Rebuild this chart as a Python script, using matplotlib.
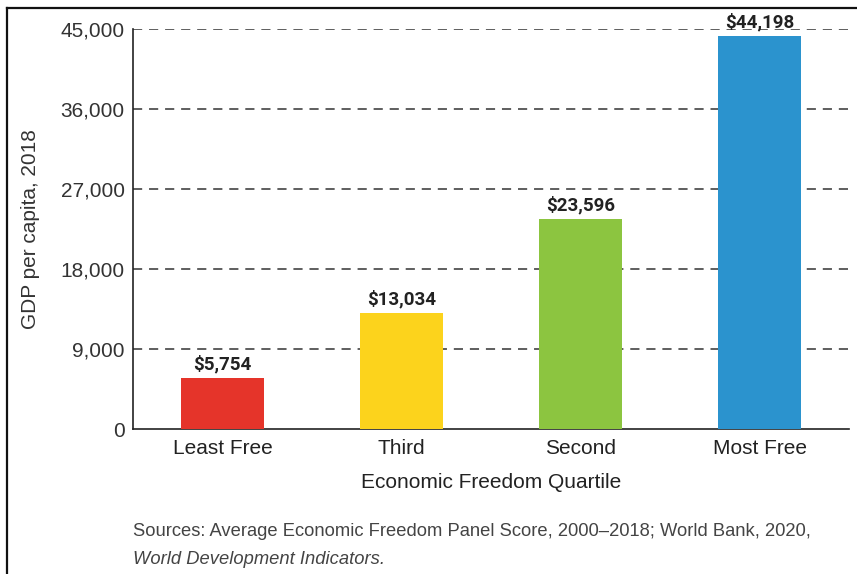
import numpy as np
import matplotlib
matplotlib.use("Agg")
import matplotlib.pyplot as plt
from matplotlib.lines import Line2D

quartiles = ["Least Free", "Third", "Second", "Most Free"]
gdp = [5754, 13034, 23596, 44198]
bar_colors = ["#E5342A", "#FCD31C", "#8CC540", "#2B93CE"]
y_ticks = [0, 9000, 18000, 27000, 36000, 45000]

plt.rcParams["font.family"] = ["Liberation Sans", "DejaVu Sans"]

fig = plt.figure(figsize=(8.57, 5.74), dpi=100)
ax = fig.add_axes([0.1552, 0.2526, 0.8355, 0.6969])

x = np.arange(len(quartiles))
ax.bar(x, gdp, width=0.46, color=bar_colors, zorder=3)

# value labels over each bar
for xi, v in zip(x, gdp):
    ax.text(xi, v + 500, f"${v:,}", ha="center", va="bottom",
            fontsize=13.5, fontweight="bold", color="#222222",
            family=["Liberation Sans Narrow", "Roboto", "DejaVu Sans"], zorder=4)

ax.set_xlim(-0.5, 3.5)
ax.set_ylim(0, 45000)
ax.set_yticks(y_ticks)
ax.set_yticklabels([f"{t:,}" for t in y_ticks])
ax.set_xticks(x)
ax.set_xticklabels(quartiles)

ax.tick_params(axis="y", length=0, pad=6, labelsize=15, labelcolor="#333333")
ax.tick_params(axis="x", length=0, pad=7, labelsize=15, labelcolor="#222222")

for t in y_ticks[1:]:
    ax.axhline(t, color="#333333", lw=1.1, ls=(0, (6, 4.5)), zorder=1)

for side in ["top", "right"]:
    ax.spines[side].set_visible(False)
for side in ["left", "bottom"]:
    ax.spines[side].set_color("#222222")
    ax.spines[side].set_linewidth(1.2)

ax.set_ylabel("GDP per capita, 2018", fontsize=15, color="#333333", labelpad=15)
ax.set_xlabel("Economic Freedom Quartile", fontsize=15, color="#222222", labelpad=11)

fig.text(0.1552, 1 - 532 / 574,
         "Sources: Average Economic Freedom Panel Score, 2000\u20132018; World Bank, 2020,",
         fontsize=13.2, color="#444444", va="center", ha="left")
fig.text(0.1552, 1 - 559 / 574, "World Development Indicators.",
         fontsize=13.2, color="#444444", va="center", ha="left", style="italic")

# frame lines along the top and left edges
fig.add_artist(Line2D([7.5 / 857, 7.5 / 857], [0, 1 - 8 / 574], color="#111111", lw=1.6))
fig.add_artist(Line2D([7.5 / 857, 1], [1 - 8 / 574, 1 - 8 / 574], color="#111111", lw=1.6))

fig.savefig("out.png", dpi=100)
